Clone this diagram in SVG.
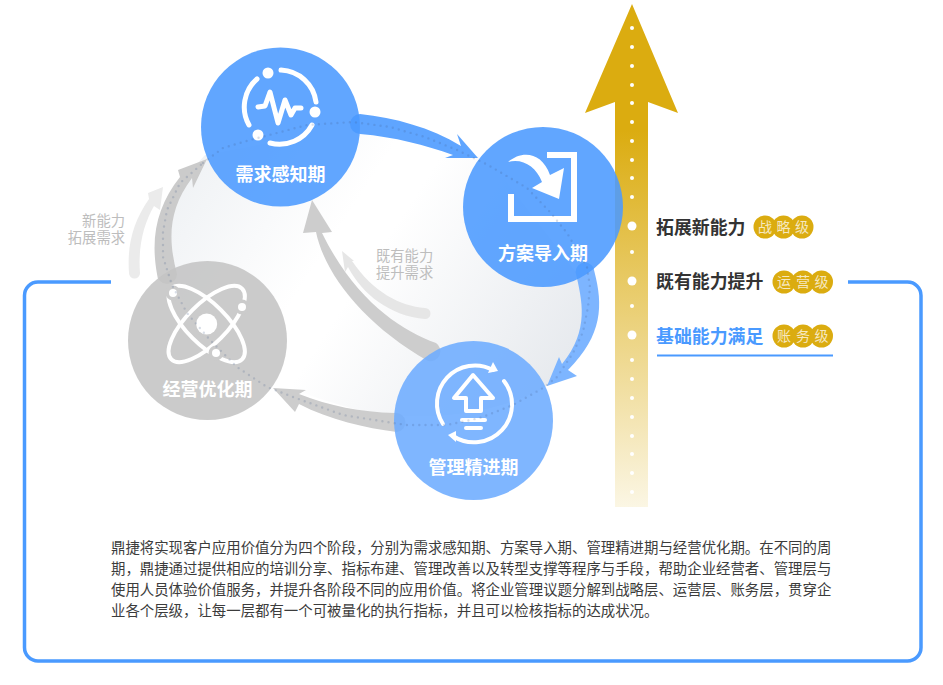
<svg xmlns="http://www.w3.org/2000/svg" width="943" height="685" viewBox="0 0 943 685">
<defs>
<linearGradient id="blobG" gradientUnits="userSpaceOnUse" x1="164" y1="150" x2="543" y2="397">
<stop offset="0" stop-color="#edf0f3"/><stop offset="0.42" stop-color="#ffffff"/><stop offset="0.52" stop-color="#ffffff"/><stop offset="1" stop-color="#e7eaee"/>
</linearGradient>
<linearGradient id="goldG" gradientUnits="userSpaceOnUse" x1="0" y1="130" x2="0" y2="507">
<stop offset="0" stop-color="#dbac10"/><stop offset="1" stop-color="#fbf6e4"/>
</linearGradient>
</defs>
<style>
text{font-family:"Noto Sans CJK SC","Liberation Sans",sans-serif}
.nl{font-size:18px;font-weight:700;fill:#fff;text-anchor:middle}
.side{font-size:14.300px;fill:#bdbdbd}
.lvl{font-size:17.900px;font-weight:700;fill:#333}
.bd{fill:#dbac10}
.bt{font-size:14px;fill:#f6e8c0;text-anchor:middle}
.body{font-size:14.420px;fill:#3c3c3c}
.ic{fill:none;stroke:#fff;stroke-linecap:round;stroke-linejoin:round}
.w{fill:#fff}
.dot{fill:#fff}
</style>

<path id="blob" d="M205,155C172,190 160,240 175,285C200,345 270,385 340,405C420,430 510,410 548,385C585,345 592,310 582,280L490,160C450,145 400,130 360,125Z" fill="url(#blobG)"/>

<g id="rising-arrow">
<path d="M632,4L678,113L648,102V507H615V102L585,113Z" fill="url(#goldG)"/>
<g class="dot">
<circle cx="632" cy="28" r="2"/><circle cx="632" cy="47" r="2"/><circle cx="632" cy="66" r="2"/><circle cx="632" cy="85" r="2"/><circle cx="632" cy="103" r="2"/><circle cx="632" cy="122" r="2"/><circle cx="632" cy="141" r="2"/><circle cx="632" cy="160" r="2"/><circle cx="632" cy="178" r="2"/><circle cx="632" cy="197" r="2"/>
<circle cx="632" cy="226" r="4.500"/><circle cx="632" cy="252" r="2"/><circle cx="632" cy="281" r="4.500"/><circle cx="632" cy="306" r="2"/><circle cx="632" cy="335" r="4.500"/><circle cx="632" cy="360" r="2"/><circle cx="632" cy="379" r="2"/><circle cx="632" cy="398" r="2"/><circle cx="632" cy="417" r="2"/><circle cx="632" cy="436" r="2"/><circle cx="632" cy="454" r="2"/><circle cx="632" cy="473" r="2"/><circle cx="632" cy="492" r="2"/>
</g>
</g>

<g id="connectors">
<path id="c-new-need" fill="#ebebeb" d="M129,273C127,245 133,222 149,199L148,193L163,187L160,210L154,206C143,225 138,248 140,273A5.500,5.500 0 0 1 129,273Z"/>
<path id="c-raise-need" fill="#e6e6e6" d="M425,308C400,306 373,292 352,261L354,261L342,251L345,272L348,267C362,294 390,316 425,319A5.500,5.500 0 0 0 425,308Z"/>
<path id="c-4-1" fill="#cbcbcb" d="M157,274C150,235 158,205 180,177L178,170L207,159L193,188L192,178C168,210 168,240 177,274A10,10 0 0 1 157,274Z"/>
<path id="c-2-4" fill="#cdcdcd" d="M436,343C400,330 355,300 322,233L332,232L312,200L303,233L316,232C325,275 365,325 428,361A10,10 0 0 0 436,343Z"/>
<path id="c-3-4" fill="#cdcdcd" d="M395,413C360,412 330,406 299,394L306,390L273,388L295,412L299,404C330,420 365,428 397,432A9.500,9.500 0 0 0 395,413Z"/>
<path id="c-1-2" fill="#5fa5ff" d="M350,124A10,10 0 0 1 360,114C395,118 430,127 461,146L457,134L478,158L445,158L453,155C425,145 395,137 360,134A10,10 0 0 1 350,124Z"/>
<path id="c-2-3" fill="#7db5ff" d="M575.500,272A9.500,9.500 0 0 1 594.500,272C603,305 603,335 568,370L577,376L547,386L559,357L562,364C590,330 582,300 575.500,272Z"/>
</g>

<g id="node-sense">
<circle cx="280.500" cy="127" r="79.500" fill="#4b9aff" opacity=".88"/>
<g class="ic" stroke-width="5">
<path d="M281,70A37,37 0 0 1 316,102"/>
<path d="M312,125A37,37 0 0 1 270,143"/>
<path d="M249,125A37,37 0 0 1 257,79"/>
<path d="M258,107L265,106L270,92L278,123L285,100L291,115L295,108L301,108"/>
</g>
<g class="w"><circle cx="268" cy="73" r="5.500"/><circle cx="315" cy="112" r="5.500"/><circle cx="258" cy="135" r="5.500"/></g>
<text class="nl" x="280.500" y="181">需求感知期</text>
</g>

<g id="node-plan">
<circle cx="543" cy="207" r="80" fill="#4b9aff" opacity=".88"/>
<path class="ic" stroke-width="6" style="stroke-linecap:butt;stroke-linejoin:miter" d="M547,155H574V219H511V194"/>
<path class="w" d="M508,162C522,150 542,152 550,175L564,168L559,199L532,188L542,182C536,166 522,158 508,162Z"/>
<text class="nl" x="543" y="260">方案导入期</text>
</g>

<g id="node-manage">
<circle cx="473.500" cy="420.500" r="79.500" fill="#6dacff" opacity=".88"/>
<g class="ic" stroke-width="4">
<path d="M443,424A38,38 0 0 1 493,370"/>
<path d="M504,381A38,38 0 0 1 453,436"/>
<path d="M473,375L454,398H466V411H481V398H493Z"/>
<path d="M462,420H485"/><path d="M466,428H481"/>
</g>
<g class="w"><path d="M493,362L498,371L488,373Z"/><path d="M448,435L456,431L456,442Z"/></g>
<text class="nl" x="473.500" y="474">管理精进期</text>
</g>

<g id="node-optimize">
<circle cx="207.500" cy="340.500" r="79.500" fill="#c4c4c4" opacity=".88"/>
<g class="ic" stroke-width="4">
<ellipse cx="206.700" cy="324" rx="50" ry="20" transform="rotate(45 206.700 324)"/>
<ellipse cx="206.700" cy="324" rx="50" ry="20" transform="rotate(-45 206.700 324)"/>
</g>
<circle class="w" cx="206.700" cy="324" r="10.500" stroke="#cbcbcb" stroke-width="5" style="paint-order:stroke"/>
<g class="w" stroke="#cbcbcb" stroke-width="7" style="paint-order:stroke"><circle cx="173" cy="293" r="4"/><circle cx="242" cy="307" r="4"/><circle cx="216" cy="353" r="4"/></g>
<text class="nl" x="207.500" y="396">经营优化期</text>
</g>

<path id="ring-dots" fill="none" stroke="#3f5a85" stroke-opacity=".2" stroke-width="2.400" stroke-linecap="round" stroke-linejoin="round" stroke-dasharray="0 6.200" d="M203,163L223,148L250,140L277,133L307,125L353,122L390,127L425,137L457,150L488,165L527,188L550,212L567,233L587,267L590,287L588,307L583,332L573,353L557,377L543,388L513,405L480,418L447,425L407,425L393,423L343,415L293,397L267,387L237,367L210,340L187,313L172,285L163,257L163,232L167,210L180,183Z"/>

<g id="side-labels">
<text class="side" text-anchor="end" x="125" y="226">新能力</text>
<text class="side" text-anchor="end" x="125" y="243">拓展需求</text>
<text class="side" x="376" y="261">既有能力</text>
<text class="side" x="376" y="278">提升需求</text>
</g>

<g id="level-strategy">
<text class="lvl" x="656" y="234">拓展新能力</text>
<circle class="bd" cx="765" cy="227" r="11.500"/><circle class="bd" cx="783.500" cy="227" r="11.500"/><circle class="bd" cx="802" cy="227" r="11.500"/>
<text class="bt" x="765" y="232">战</text><text class="bt" x="783.500" y="232">略</text><text class="bt" x="802" y="232">级</text>
</g>
<g id="level-operation">
<text class="lvl" x="656" y="288">既有能力提升</text>
<circle class="bd" cx="784" cy="282" r="11.500"/><circle class="bd" cx="803" cy="282" r="11.500"/><circle class="bd" cx="821.500" cy="282" r="11.500"/>
<text class="bt" x="784" y="287">运</text><text class="bt" x="803" y="287">营</text><text class="bt" x="821.500" y="287">级</text>
</g>
<g id="level-account">
<text class="lvl" x="656" y="343" style="fill:#4a9aff">基础能力满足</text>
<circle class="bd" cx="784" cy="336" r="11.500"/><circle class="bd" cx="803" cy="336" r="11.500"/><circle class="bd" cx="821.500" cy="336" r="11.500"/>
<text class="bt" x="784" y="341">账</text><text class="bt" x="803" y="341">务</text><text class="bt" x="821.500" y="341">级</text>
<path d="M657,355.500H833" stroke="#4a9aff" stroke-width="2"/>
</g>

<path id="frame" fill="none" stroke="#4a9aff" stroke-width="3.500" d="M111,282H38A13.500,13.500 0 0 0 24.500,295.500V647.500A13.500,13.500 0 0 0 38,661H907.500A13.500,13.500 0 0 0 921,647.500V295.500A13.500,13.500 0 0 0 907.500,282H848"/>

<g id="description">
<text class="body" x="111" y="553">鼎捷将实现客户应用价值分为四个阶段，分别为需求感知期、方案导入期、管理精进期与经营优化期。在不同的周</text>
<text class="body" x="111" y="574">期，鼎捷通过提供相应的培训分享、指标布建、管理改善以及转型支撑等程序与手段，帮助企业经营者、管理层与</text>
<text class="body" x="111" y="595">使用人员体验价值服务，并提升各阶段不同的应用价值。将企业管理议题分解到战略层、运营层、账务层，贯穿企</text>
<text class="body" x="111" y="616">业各个层级，让每一层都有一个可被量化的执行指标，并且可以检核指标的达成状况。</text>
</g>
</svg>
